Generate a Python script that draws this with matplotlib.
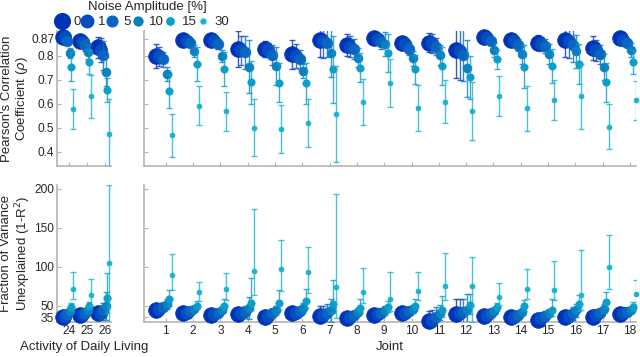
import numpy as np
import matplotlib.pyplot as plt
from matplotlib.lines import Line2D

plt.rcParams['font.family'] = ['Liberation Sans', 'DejaVu Sans']

# groups: ADL 24, 25, 26 then joints 1..18
adl = [24, 25, 26]
joints = list(range(1, 19))
noise = [0, 1, 5, 10, 15, 30]

# Pearson's correlation (mean) per noise level
rho_0 = [0.880, 0.860, 0.835, 0.800, 0.865, 0.865, 0.828, 0.828, 0.806, 0.865, 0.844, 0.876, 0.855, 0.855, 0.826, 0.879, 0.865, 0.855, 0.865, 0.833, 0.875]
rho_1 = [0.877, 0.857, 0.822, 0.798, 0.861, 0.862, 0.823, 0.825, 0.800, 0.862, 0.838, 0.870, 0.850, 0.852, 0.820, 0.872, 0.860, 0.850, 0.860, 0.822, 0.866]
rho_5 = [0.863, 0.845, 0.802, 0.785, 0.855, 0.850, 0.814, 0.803, 0.786, 0.855, 0.828, 0.858, 0.830, 0.838, 0.803, 0.861, 0.844, 0.840, 0.845, 0.806, 0.855]
rho_10 = [0.812, 0.815, 0.733, 0.724, 0.820, 0.800, 0.754, 0.757, 0.737, 0.812, 0.792, 0.851, 0.789, 0.803, 0.747, 0.824, 0.806, 0.807, 0.818, 0.754, 0.824]
rho_15 = [0.755, 0.772, 0.657, 0.653, 0.765, 0.745, 0.689, 0.688, 0.685, 0.743, 0.750, 0.812, 0.744, 0.758, 0.710, 0.786, 0.754, 0.758, 0.766, 0.689, 0.775]
rho_30 = [0.578, 0.630, 0.475, 0.468, 0.592, 0.568, 0.500, 0.496, 0.520, 0.556, 0.607, 0.685, 0.583, 0.608, 0.570, 0.632, 0.580, 0.615, 0.630, 0.504, 0.614]

rho_err_0 = [0.010, 0.015, 0.045, 0.050, 0.010, 0.010, 0.075, 0.035, 0.060, 0.070, 0.045, 0.015, 0.015, 0.040, 0.120, 0.010, 0.015, 0.030, 0.070, 0.050, 0.010]
rho_err_1 = [0.012, 0.020, 0.050, 0.040, 0.012, 0.012, 0.060, 0.030, 0.050, 0.070, 0.045, 0.020, 0.020, 0.040, 0.120, 0.012, 0.020, 0.030, 0.070, 0.045, 0.012]
rho_err_5 = [0.015, 0.025, 0.060, 0.030, 0.015, 0.020, 0.070, 0.040, 0.040, 0.060, 0.040, 0.030, 0.025, 0.035, 0.110, 0.015, 0.025, 0.030, 0.070, 0.040, 0.015]
rho_err_10 = [0.020, 0.030, 0.060, 0.030, 0.025, 0.025, 0.110, 0.080, 0.030, 0.100, 0.040, 0.050, 0.030, 0.040, 0.120, 0.030, 0.040, 0.040, 0.070, 0.055, 0.030]
rho_err_15 = [0.060, 0.050, 0.050, 0.070, 0.070, 0.070, 0.090, 0.080, 0.085, 0.140, 0.060, 0.080, 0.060, 0.080, 0.090, 0.040, 0.090, 0.070, 0.085, 0.080, 0.050]
rho_err_30 = [0.085, 0.090, 0.145, 0.090, 0.083, 0.080, 0.120, 0.100, 0.100, 0.200, 0.095, 0.100, 0.095, 0.090, 0.120, 0.085, 0.095, 0.085, 0.135, 0.095, 0.080]

# fraction of variance unexplained (mean) per noise level
fvu_0 = [35, 38, 40, 45, 40, 38, 39, 36, 40, 37, 34, 38, 40, 30, 39, 37, 35, 32, 35, 36, 39]
fvu_1 = [37, 39, 41, 46, 41, 39, 40, 37, 41, 38, 35, 39, 41, 32, 40, 38, 36, 34, 37, 38, 40]
fvu_5 = [39, 41, 44, 48, 43, 41, 42, 40, 43, 40, 38, 41, 43, 36, 42, 40, 38, 37, 40, 41, 42]
fvu_10 = [43, 44, 50, 52, 46, 44, 47, 44, 47, 44, 42, 44, 46, 41, 45, 43, 42, 41, 44, 46, 44]
fvu_15 = [48, 50, 60, 58, 50, 50, 54, 53, 56, 52, 47, 48, 50, 45, 51, 48, 49, 45, 52, 55, 48]
fvu_30 = [72, 64, 105, 89, 67, 71, 94, 97, 93, 74, 68, 58, 69, 75, 75, 61, 71, 70, 64, 99, 65]

fvu_err_0 = [3, 3, 8, 3, 2, 2, 6, 3, 4, 12, 3, 4, 3, 13, 19, 2, 3, 4, 8, 5, 2]
fvu_err_1 = [3, 3, 9, 3, 2, 2, 6, 3, 4, 12, 3, 5, 3, 13, 18, 2, 3, 5, 8, 5, 2]
fvu_err_5 = [4, 4, 10, 4, 3, 3, 8, 4, 5, 12, 4, 6, 4, 12, 16, 3, 4, 6, 8, 6, 3]
fvu_err_10 = [4, 4, 18, 6, 3, 4, 14, 6, 6, 15, 5, 6, 5, 10, 20, 3, 4, 5, 8, 6, 3]
fvu_lo_15 = [5, 4, 20, 8, 4, 6, 10, 9, 9, 12, 7, 6, 6, 10, 12, 5, 6, 8, 9, 8, 5]
fvu_hi_15 = [6, 5, 32, 12, 6, 8, 32, 17, 15, 31, 11, 8, 9, 18, 14, 6, 8, 13, 12, 13, 7]
fvu_lo_30 = [14, 15, 100, 19, 11, 14, 30, 28, 27, 40, 14, 15, 12, 18, 46, 10, 13, 13, 20, 28, 13]
fvu_hi_30 = [21, 20, 100, 27, 14, 21, 80, 37, 32, 119, 30, 35, 24, 43, 38, 18, 26, 37, 58, 42, 18]

rho = [rho_0, rho_1, rho_5, rho_10, rho_15, rho_30]
rho_err = [rho_err_0, rho_err_1, rho_err_5, rho_err_10, rho_err_15, rho_err_30]
fvu = [fvu_0, fvu_1, fvu_5, fvu_10, fvu_15, fvu_30]
fvu_lo = [fvu_err_0, fvu_err_1, fvu_err_5, fvu_err_10, fvu_lo_15, fvu_lo_30]
fvu_hi = [fvu_err_0, fvu_err_1, fvu_err_5, fvu_err_10, fvu_hi_15, fvu_hi_30]

colors = ['#0033b6', '#064dc2', '#0a65c2', '#0a80c0', '#0a9ecb', '#1ab4d0']
sizes = [11.3, 9.0, 7.7, 6.4, 5.3, 3.6]
offsets = [-0.36, -0.24, -0.1, 0.04, 0.13, 0.22]
gray = '#b4b4b4'
txt = '#262626'

fig = plt.figure(figsize=(6.4, 3.57), dpi=100)
ax_tl = fig.add_axes([0.089, 0.535, 0.084, 0.378])
ax_tr = fig.add_axes([0.225, 0.535, 0.769, 0.378])
ax_bl = fig.add_axes([0.089, 0.098, 0.084, 0.384])
ax_br = fig.add_axes([0.225, 0.098, 0.769, 0.384])


def draw(ax, pos, means, lo, hi):
    for i in range(len(noise)):
        x = np.array(pos) + offsets[i]
        ax.errorbar(x, means[i], yerr=[lo[i], hi[i]], fmt='none', ecolor=colors[i],
                    elinewidth=1.0, capsize=2.2, capthick=1.0, alpha=0.8, zorder=2 + 2 * i)
        ax.plot(x, means[i], 'o', ms=sizes[i], color=colors[i], mec=colors[i],
                mew=0.5, clip_on=False, zorder=3 + 2 * i)


n = len(adl)
draw(ax_tl, adl, [r[:n] for r in rho], [e[:n] for e in rho_err], [e[:n] for e in rho_err])
draw(ax_tr, joints, [r[n:] for r in rho], [e[n:] for e in rho_err], [e[n:] for e in rho_err])
draw(ax_bl, adl, [r[:n] for r in fvu], [e[:n] for e in fvu_lo], [e[:n] for e in fvu_hi])
draw(ax_br, joints, [r[n:] for r in fvu], [e[n:] for e in fvu_lo], [e[n:] for e in fvu_hi])

for ax in [ax_tl, ax_tr, ax_bl, ax_br]:
    for s in ['top', 'right']:
        ax.spines[s].set_visible(False)
    for s in ['left', 'bottom']:
        ax.spines[s].set_color(gray)
        ax.spines[s].set_linewidth(1.2)
    ax.tick_params(direction='in', length=3, width=0.8, color=gray,
                   labelcolor=txt, labelsize=8.6, pad=2)

for ax in [ax_tl, ax_bl]:
    ax.set_xlim(23.33, 26.33)
    ax.set_xticks(adl)
for ax in [ax_tr, ax_br]:
    ax.set_xlim(0.2, 18.23)
    ax.set_xticks(joints)

rho_ticks = [0.4, 0.5, 0.6, 0.7, 0.8, 0.87]
fvu_ticks = [35, 50, 100, 150, 200]
for ax in [ax_tl, ax_tr]:
    ax.set_ylim(0.34, 0.903)
    ax.set_yticks(rho_ticks)
    ax.set_xticklabels([])
for ax in [ax_bl, ax_br]:
    ax.set_ylim(29, 205)
    ax.set_yticks(fvu_ticks)
ax_tl.set_yticklabels(['0.4', '0.5', '0.6', '0.7', '0.8', '0.87'])
ax_tr.set_yticklabels([])
ax_br.set_yticklabels([])

ax_tl.set_ylabel("Pearson's Correlation\nCoefficient ($\\rho$)", fontsize=9.5, color=txt,
                 labelpad=1, linespacing=1.1)
ax_bl.set_ylabel('Fraction of Variance\nUnexplained (1-R$^2$)', fontsize=9.5, color=txt,
                 labelpad=1, linespacing=1.1)
ax_bl.set_xlabel('Activity of Daily Living', fontsize=9.5, color=txt, labelpad=3)
ax_br.set_xlabel('Joint', fontsize=9.5, color=txt, labelpad=3)

fig.text(0.23, 0.998, 'Noise Amplitude [%]', ha='center', va='top', fontsize=9.5, color=txt)
handles = [Line2D([], [], ls='', marker='o', ms=sizes[i], color=colors[i]) for i in range(len(noise))]
leg = fig.legend(handles, [str(v) for v in noise], ncol=6, loc='center',
                 bbox_to_anchor=(0.222, 0.938), frameon=False,
                 fontsize=9.5, handletextpad=0.35, columnspacing=0.0,
                 handlelength=1.0, borderpad=0.1)
for t in leg.get_texts():
    t.set_color(txt)

fig.savefig('out.png', dpi=100)
